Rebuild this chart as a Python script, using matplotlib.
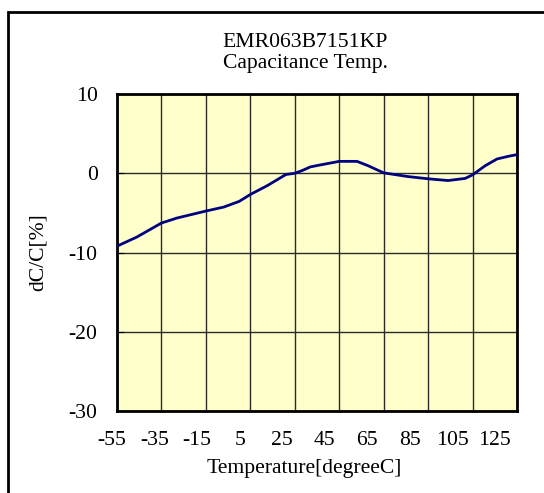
import matplotlib
matplotlib.use("Agg")
import matplotlib.pyplot as plt
import matplotlib.transforms as mtransforms
from matplotlib.patches import Rectangle

# Data
temps = [-55, -46, -35, -28, -15, -7, 0, 5, 12.7, 21, 25, 28, 32, 36.5, 45, 53, 58, 65,
         76, 85, 94, 101.7, 105, 110.7, 116, 121.3, 125]
dcc = [-9.2, -8.04, -6.28, -5.65, -4.77, -4.27, -3.55, -2.68, -1.55, -0.16, 0.0, 0.3, 0.8, 1.05,
       1.5, 1.5, 0.95, 0.05, -0.42, -0.7, -0.92, -0.65, -0.2, 0.95, 1.8, 2.15, 2.35]
x_ticks = [-55, -35, -15, 5, 25, 45, 65, 85, 105, 125]
y_ticks = [-30, -20, -10, 0, 10]

plt.rcParams['font.family'] = ['Liberation Serif', 'DejaVu Serif']
plt.rcParams['axes.unicode_minus'] = False
FS = 15.6

W, H = 544, 493
fig = plt.figure(figsize=(W/100, H/100), dpi=100)
ax = fig.add_axes([117/W, 1-411/H, 400/W, 317/H])

# outer frame (runs off the right and bottom edges like the original)
fig.patches.append(Rectangle((8/W, -0.1), 1.0, 1-12/H+0.1, transform=fig.transFigure,
                             fill=False, edgecolor='black', linewidth=2))

ax.set_facecolor('#FFFFCC')
ax.plot(temps, dcc, color='#000080', linewidth=2, zorder=3,
        solid_joinstyle='round', solid_capstyle='round')

ax.set_xlim(-55, 125)
ax.set_ylim(-30, 10)
ax.set_xticks(x_ticks)
ax.set_yticks(y_ticks)
ax.grid(True, color='#2b2b2b', linewidth=1)
for s in ax.spines.values():
    s.set_linewidth(2)
ax.tick_params(axis='x', length=0, labelsize=FS, pad=14.5)
ax.tick_params(axis='y', length=5, direction='in', labelsize=FS, pad=14)

# the original's x labels drift left of their grid lines a little more each step
for i, lbl in enumerate(ax.get_xticklabels()):
    dx = (-5 - 1.9 * i) / 100
    lbl.set_transform(lbl.get_transform() +
                      mtransforms.ScaledTranslation(dx, 0, fig.dpi_scale_trans))

fig.text(305/W, 1-47/H, 'EMR063B7151KP', fontsize=FS, ha='center', va='baseline')
fig.text(305/W, 1-68/H, 'Capacitance Temp.', fontsize=FS, ha='center', va='baseline')
fig.text(304/W, 1-473/H, 'Temperature[degreeC]', fontsize=FS, ha='center', va='baseline')
fig.text(38/W, 1-252/H, 'dC/C[%]', fontsize=FS, ha='center', va='center', rotation=90)

fig.savefig('out.png', dpi=100)
